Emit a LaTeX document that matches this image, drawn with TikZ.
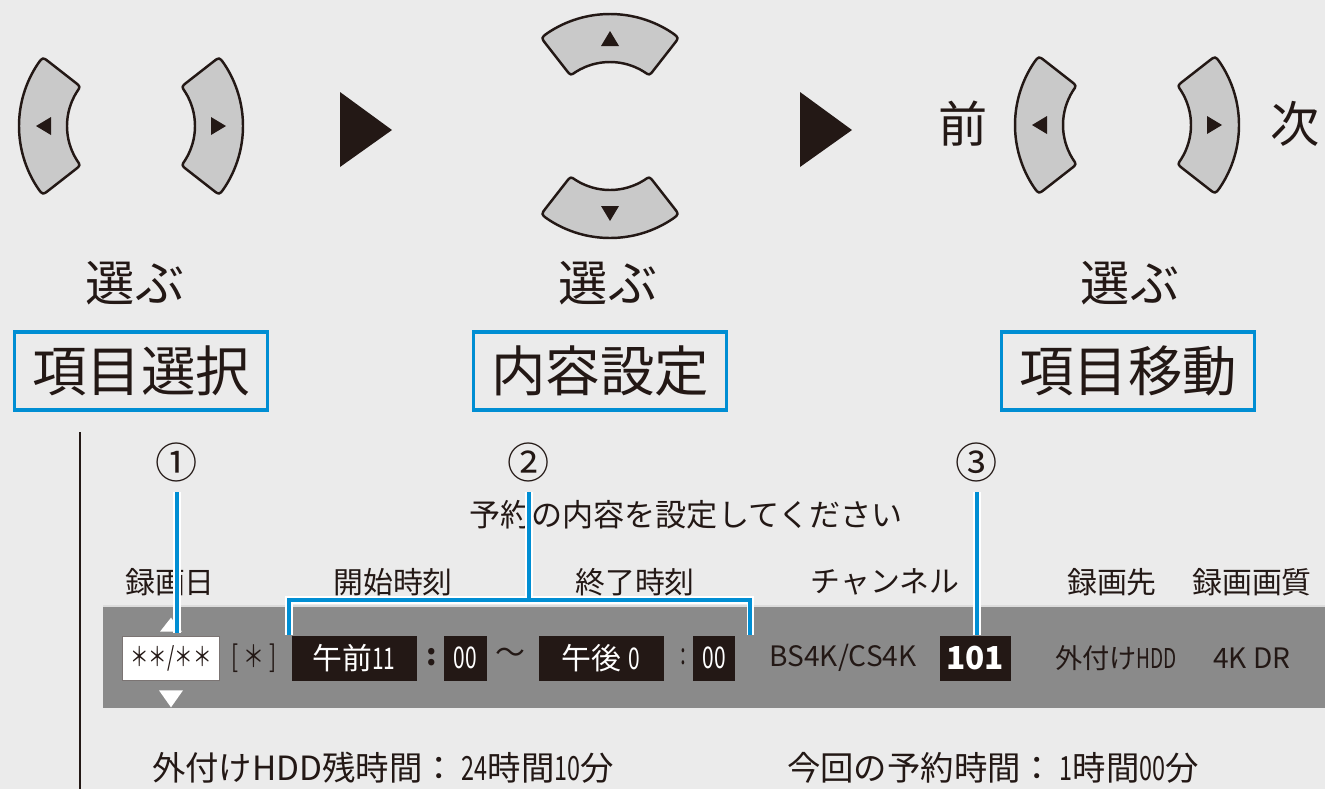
\documentclass[tikz,border=0pt]{standalone}
\usepackage{fontspec}
\setmainfont{Noto Sans CJK JP}
\newfontfamily\narrowfont[FakeStretch=0.7]{Noto Sans CJK JP}
\newcommand\nr[1]{{\narrowfont #1}}
\usetikzlibrary{positioning,calc}
\definecolor{bggray}{RGB}{235,235,235}
\definecolor{padgray}{RGB}{201,201,201}
\definecolor{bargray}{RGB}{138,138,138}
\definecolor{guideblue}{RGB}{0,142,211}
\definecolor{inkblack}{RGB}{35,24,21}
\newcommand\px{0.02cm}
\newcommand\padkey[2]{%
  \draw[key] ($(#1)+(#2-34:112)$) arc[start angle=#2-34,end angle=#2+34,radius=112]
    .. controls ($(#1)+(#2+38:112)$) .. ($(#1)+(#2+38:104)$)
    -- ($(#1)+(#2+38:71)$)
    .. controls ($(#1)+(#2+38:64)$) .. ($(#1)+(#2+32:64)$)
    arc[start angle=#2+32,end angle=#2-32,radius=64]
    .. controls ($(#1)+(#2-38:64)$) .. ($(#1)+(#2-38:71)$)
    -- ($(#1)+(#2-38:104)$)
    .. controls ($(#1)+(#2-38:112)$) .. ($(#1)+(#2-34:112)$) -- cycle;
  \fill[inkblack] ($(#1)+(#2:95)$) -- ($(#1)+(#2:80)+(#2+90:9)$) -- ($(#1)+(#2:80)+(#2-90:9)$) -- cycle;}

\begin{document}
\begin{tikzpicture}[x=0.02cm,y=-0.02cm,font=\fontsize{17}{20}\selectfont,text=inkblack,
    key/.style={draw=inkblack,line width=1.4pt,fill=padgray,line join=round},
    guide/.style={draw=guideblue,line width=2.3pt,preaction={draw=white,line width=4.2pt}},
    modebox/.style={draw=guideblue,line width=2.2pt,minimum width=253*\px,minimum height=78*\px,inner sep=0pt,font=\fontsize{31}{34}\selectfont},
    sel/.style={font=\fontsize{28}{30}\selectfont},
    circnum/.style={font=\fontsize{24}{26}\selectfont,inner sep=0pt},
    onair/.style={fill=inkblack,text=white,minimum height=45*\px,inner sep=0pt},
    datebox/.style={fill=white,draw=inkblack!60,line width=0.4pt,minimum width=97*\px,minimum height=44*\px,inner sep=0pt},
    bottomtext/.style={anchor=west,font=\fontsize{19}{22}\selectfont}]
  \useasboundingbox (0,0) rectangle (1325,789);
  \fill[bggray] (0,0) rectangle (1325,789);
  \coordinate (padL) at (131,126);
  \coordinate (padM) at (610,126);
  \coordinate (padR) at (1127,125);
  \padkey{padL}{180}\padkey{padL}{0}
  \padkey{padM}{-90}\padkey{padM}{90}
  \padkey{padR}{180}\padkey{padR}{0}
  \fill[inkblack] (340,92) -- (392,130) -- (340,167) -- cycle;
  \fill[inkblack] (800,92) -- (852,130) -- (800,167) -- cycle;
  \node[sel] (prev) at (963,124) {前};
  \node[sel] (next) at (1295,124) {次};
  \node[sel] (pickL) at (135,283) {選ぶ};
  \node[sel] (pickM) at (608,283) {選ぶ};
  \node[sel] (pickR) at (1130,283) {選ぶ};
  \node[modebox] (itemsel) at (141,371) {項目選択};
  \node[modebox] (valset) at (600,371) {内容設定};
  \node[modebox] (itemmove) at (1128,371) {項目移動};
  \draw[inkblack,line width=1.6pt] (80,432) -- (80,789);
  \node[circnum] (c1) at (177,462) {①};
  \node[circnum] (c2) at (529,462) {②};
  \node[circnum] (c3) at (977,462) {③};
  \node[font=\fontsize{17.7}{20}\selectfont] (title) at (686,515) {予約の内容を設定してください};
  \node (hdate) at (170,582) {録画日};
  \node (hstart) at (393,582) {開始時刻};
  \node (hend) at (635,582) {終了時刻};
  \node (hch) at (885,582) {チャンネル};
  \node (hdest) at (1112,582) {録画先};
  \node (hqual) at (1252,582) {録画画質};
  \fill[bargray] (103,605) rectangle (1325,708);
  \draw[white!70!bargray,line width=0.8pt] (103,606) -- (1325,606);
  \node[datebox,font=\fontsize{15}{17}\selectfont] (date) at (171,658) {\nr{＊＊/＊＊}};
  \fill[white] ($(date.north)+(-11,-4)$) -- ($(date.north)+(11,-4)$) -- ($(date.north)+(0,-18)$) -- cycle;
  \fill[white] ($(date.south)+(-12,10)$) -- ($(date.south)+(12,10)$) -- ($(date.south)+(0,27)$) -- cycle;
  \node (dow) at (254,658) {\nr{[\,＊\,]}};
  \node[onair,minimum width=125*\px] (starthm) at (354,658) {午前\nr{11}};
  \node (colonA) at (432,657) {\bfseries :};
  \node[onair,minimum width=43*\px] (startmin) at (465,658) {\nr{00}};
  \node (tilde) at (510,656) {～};
  \node[onair,minimum width=125*\px] (endhm) at (601,658) {午後\ \nr{0}};
  \node (colonB) at (683,657) {\nr{:}};
  \node[onair,minimum width=42*\px] (endmin) at (714,658) {\nr{00}};
  \node[font=\fontsize{16}{18}\selectfont] (band) at (843,658) {BS4K/CS4K};
  \node[onair,minimum width=71*\px,font=\fontsize{18}{20}\selectfont\bfseries] (chno) at (975,658) {101};
  \node[font=\fontsize{15.5}{18}\selectfont] (dest) at (1116,658) {外付け\nr{HDD}};
  \node[font=\fontsize{16}{18}\selectfont] (qual) at (1252,658) {4K DR};
  \coordinate (brk) at (c2 |- 0,600);
  \draw[guide] ($(c1.south)+(0,10)$) -- ($(c1 |- date.north)+(0,-3)$);
  \draw[guide] ($(starthm.north west)+(-2,0)$) |- (brk) -| ($(endmin.north east)+(15,0)$)
    ($(c2.south)+(0,10)$) -- (brk);
  \draw[guide] ($(c3.south)+(0,10)$) -- (c3 |- chno.north);
  \node[bottomtext] (remain) at (146,768) {外付けHDD残時間：\,\nr{24}時間\nr{10}分};
  \node[bottomtext] (thisrec) at (781,768) {今回の予約時間：\,\nr{1}時間\nr{00}分};
\end{tikzpicture}
\end{document}
